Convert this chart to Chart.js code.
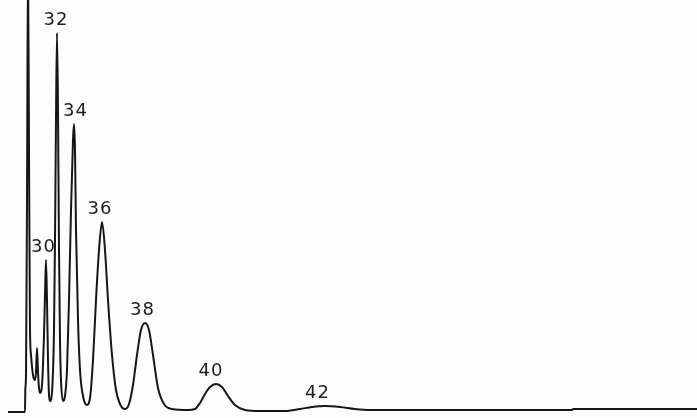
<!DOCTYPE html>
<html>
<head>
<meta charset="utf-8">
<script src="https://cdn.jsdelivr.net/npm/chart.js@4/dist/chart.umd.min.js"></script>
<style>
  html, body { margin: 0; padding: 0; background: #fdfdfd; }
  #wrap { width: 697px; height: 418px; }
</style>
</head>
<body>
<div id="wrap"><canvas id="trace" width="697" height="418"></canvas></div>
<script>
// Detector trace: elution time (chart units) and response above baseline
const elutionTime = [
  8, 25, 25.3, 26, 27, 28, 29, 30, 31, 33, 35, 36, 37, 38, 39, 40,
  42, 44, 45, 46, 47, 48, 49, 50,
  52, 54, 55, 56, 57, 58, 59, 60, 61, 63,
  65, 67, 69, 71, 73, 74, 75, 76, 78, 80, 83, 87,
  90, 93, 96, 99, 102, 105, 108, 112, 116, 120, 125,
  129, 133, 137, 141, 145, 149, 153, 158, 164, 172, 188,
  195, 200, 205, 210, 216, 222, 228, 235, 245, 260, 285,
  300, 312, 325, 340, 355, 370, 572, 573, 697
];
const response = [
  -2, -2, 20, 35, 210, 450, 260, 80, 55, 35, 30, 38, 62, 38, 22, 17,
  25, 75, 115, 150, 110, 50, 15, 9,
  18, 80, 170, 290, 377, 300, 160, 70, 30, 9,
  14, 40, 110, 200, 270, 286, 260, 180, 90, 40, 14, 5,
  12, 50, 110, 160, 188, 160, 110, 55, 20, 6, 1,
  6, 25, 55, 80, 87, 80, 55, 22, 6, 1, 0,
  1, 7, 16, 23, 26, 23, 14, 5, 0, -1, -1,
  1, 3, 4, 3, 1, 0, 0, 1, 1
];

// Carbon-number labels and the elution time of each labelled peak
const peakNames = ['30', '32', '34', '36', '38', '40', '42'];
const peakTimes = [46, 57, 74, 102, 145, 216, 325];

const points = elutionTime.map((t, i) => ({ x: t, y: response[i] }));

// Writes each carbon number just above its peak apex
const peakLabelPlugin = {
  id: 'peakLabels',
  afterDatasetsDraw(chart, args, opts) {
    const { ctx, scales } = chart;
    ctx.save();
    ctx.font = opts.font;
    ctx.fillStyle = opts.color;
    ctx.letterSpacing = opts.spacing;
    ctx.textAlign = 'center';
    ctx.textBaseline = 'alphabetic';
    peakNames.forEach((name, i) => {
      const idx = elutionTime.indexOf(peakTimes[i]);
      const px = scales.x.getPixelForValue(peakTimes[i]) + opts.nudge[i];
      const py = scales.y.getPixelForValue(response[idx]) - opts.gap;
      ctx.fillText(name, px, py);
    });
    ctx.restore();
  }
};

new Chart(document.getElementById('trace'), {
  type: 'line',
  data: {
    datasets: [{
      data: points,
      borderColor: '#161616',
      borderWidth: 2,
      pointRadius: 0,
      fill: false,
      cubicInterpolationMode: 'monotone'
    }]
  },
  options: {
    responsive: false,
    animation: false,
    devicePixelRatio: 1,
    layout: { padding: 0 },
    plugins: {
      legend: { display: false },
      tooltip: { enabled: false },
      peakLabels: {
        font: '18px "DejaVu Sans", sans-serif',
        color: '#1e1e1e',
        spacing: '1px',
        gap: 8,
        nudge: [-2.5, -1, 1.5, -2, -2.5, -5, -7.5]
      }
    },
    scales: {
      x: { type: 'linear', min: 0, max: 697, display: false },
      y: { type: 'linear', min: -8, max: 410, display: false }
    }
  },
  plugins: [peakLabelPlugin]
});
</script>
</body>
</html>
